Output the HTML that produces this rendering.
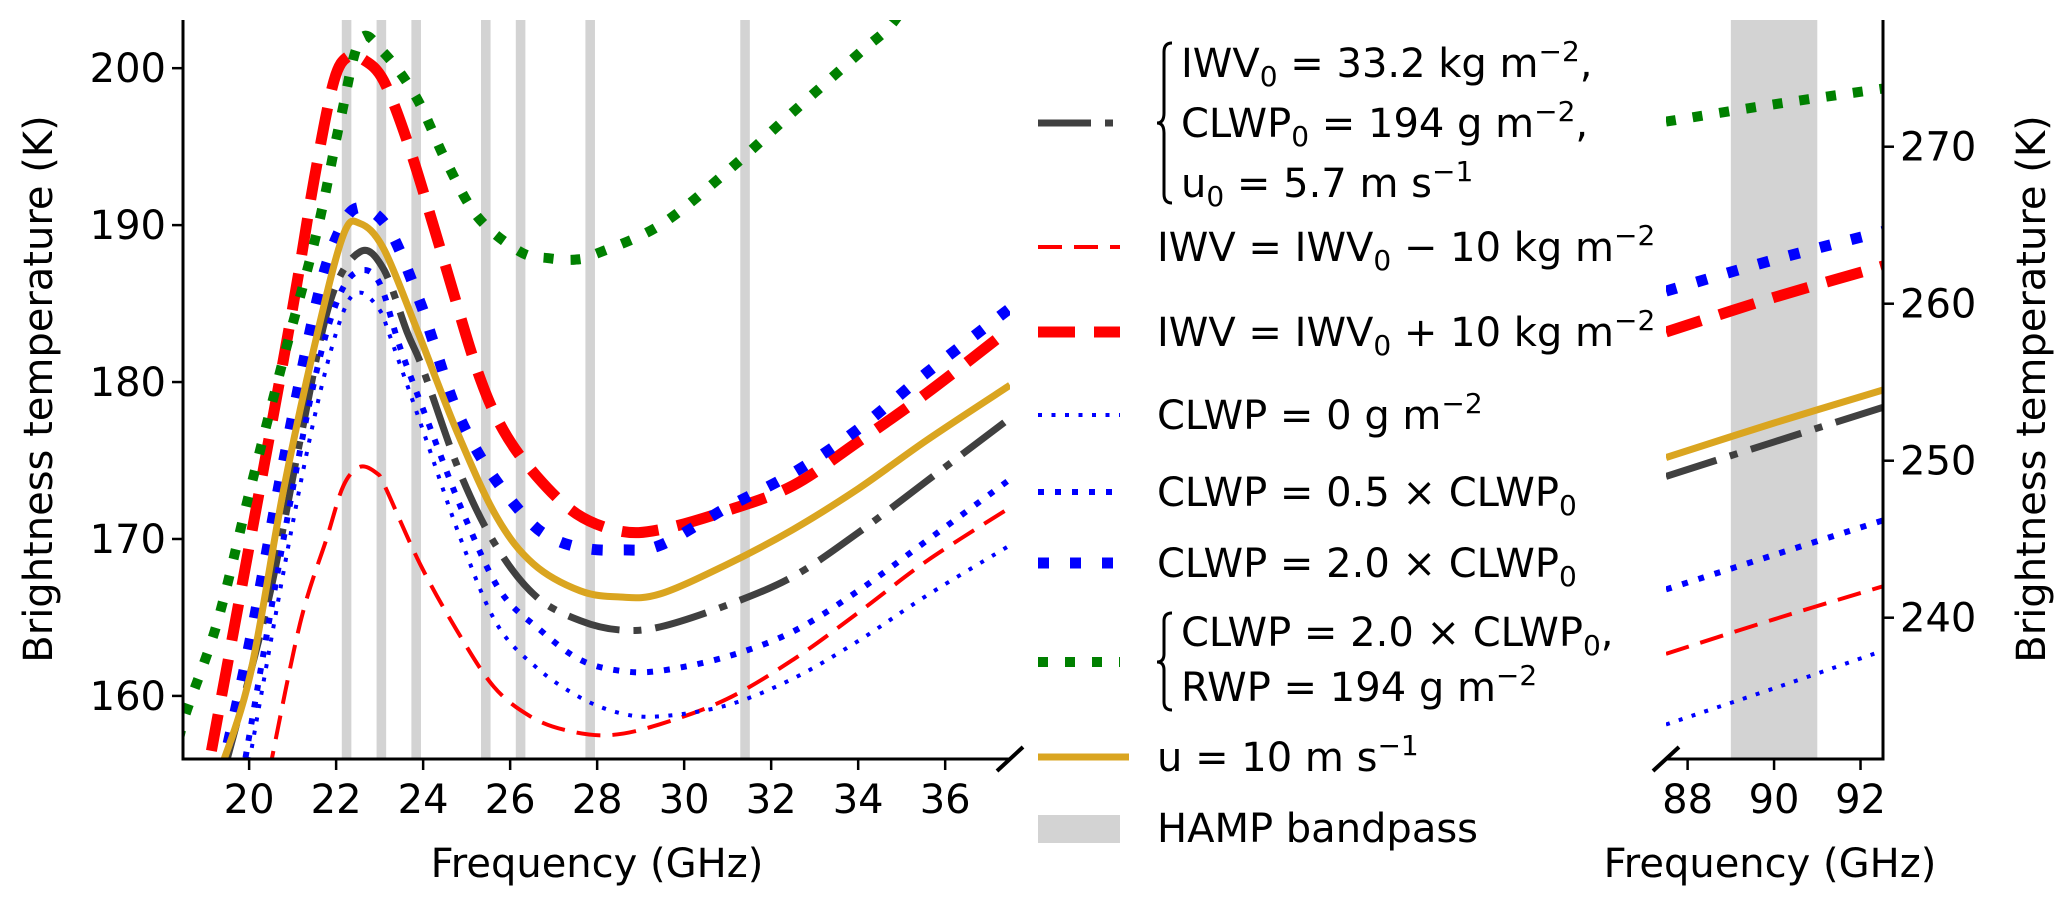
<!DOCTYPE html>
<html><head><meta charset="utf-8">
<style>
html,body{margin:0;padding:0;background:#fff;}
svg{display:block;font-family:"DejaVu Sans","Liberation Sans",sans-serif;}
text{fill:#000;}
</style></head>
<body>
<svg id="chart" xmlns="http://www.w3.org/2000/svg" width="2067" height="904" viewBox="0 0 2067 904">
<defs>
<clipPath id="clipL"><rect x="183" y="20" width="827" height="739"/></clipPath>
<clipPath id="clipR"><rect x="1666" y="20" width="217" height="739"/></clipPath>
</defs>
<g id="bandsL" clip-path="url(#clipL)"></g>
<g id="bandsR" clip-path="url(#clipR)"></g>
<g id="linesL" clip-path="url(#clipL)"></g>
<g id="linesR" clip-path="url(#clipR)"></g>
<g id="axes"></g>
<text x="0" y="0" font-size="40" text-anchor="middle" transform="translate(52,389) rotate(-90)">Brightness temperature (K)</text>
<text x="0" y="0" font-size="40" text-anchor="middle" transform="translate(2045,389) rotate(-90)">Brightness temperature (K)</text>
<text x="597" y="877" font-size="40" text-anchor="middle">Frequency (GHz)</text>
<text x="1770" y="877" font-size="40" text-anchor="middle">Frequency (GHz)</text>

<g font-size="40">
 <line x1="1038" y1="123" x2="1122" y2="123" stroke="#404040" stroke-width="7" stroke-dasharray="53 14 8 14"/>
 <path d="M1172,43 Q1164,43 1164,52 L1164,113 Q1164,123 1157,123 Q1164,123 1164,133 L1164,194 Q1164,203 1172,203" fill="none" stroke="#000" stroke-width="3"/>
 <text x="1181" y="77">IWV<tspan font-size="28" dy="9">0</tspan><tspan dy="-9"> = 33.2 kg m</tspan><tspan font-size="28" dy="-16">−2</tspan><tspan dy="16">,</tspan></text>
 <text x="1181" y="137">CLWP<tspan font-size="28" dy="9">0</tspan><tspan dy="-9"> = 194 g m</tspan><tspan font-size="28" dy="-16">−2</tspan><tspan dy="16">,</tspan></text>
 <text x="1181" y="197">u<tspan font-size="28" dy="9">0</tspan><tspan dy="-9"> = 5.7 m s</tspan><tspan font-size="28" dy="-16">−1</tspan></text>

 <line x1="1038" y1="247" x2="1120" y2="247" stroke="#ff0000" stroke-width="4" stroke-dasharray="24 12"/>
 <text x="1157" y="261">IWV = IWV<tspan font-size="28" dy="9">0</tspan><tspan dy="-9"> − 10 kg m</tspan><tspan font-size="28" dy="-16">−2</tspan></text>

 <line x1="1038" y1="332" x2="1120" y2="332" stroke="#ff0000" stroke-width="11" stroke-dasharray="37 19"/>
 <text x="1157" y="346">IWV = IWV<tspan font-size="28" dy="9">0</tspan><tspan dy="-9"> + 10 kg m</tspan><tspan font-size="28" dy="-16">−2</tspan></text>

 <line x1="1038" y1="415" x2="1120" y2="415" stroke="#0000ff" stroke-width="4" stroke-dasharray="4 9.5"/>
 <text x="1157" y="429">CLWP = 0 g m<tspan font-size="28" dy="-16">−2</tspan></text>

 <line x1="1038" y1="492" x2="1120" y2="492" stroke="#0000ff" stroke-width="6" stroke-dasharray="6 11"/>
 <text x="1157" y="506">CLWP = 0.5 × CLWP<tspan font-size="28" dy="9">0</tspan></text>

 <line x1="1038" y1="563" x2="1120" y2="563" stroke="#0000ff" stroke-width="11" stroke-dasharray="11 21"/>
 <text x="1157" y="577">CLWP = 2.0 × CLWP<tspan font-size="28" dy="9">0</tspan></text>

 <line x1="1038" y1="662" x2="1120" y2="662" stroke="#008000" stroke-width="10" stroke-dasharray="10 17"/>
 <path d="M1172,613 Q1164,613 1164,621 L1164,654 Q1164,662 1157,662 Q1164,662 1164,670 L1164,702 Q1164,710 1172,710" fill="none" stroke="#000" stroke-width="3"/>
 <text x="1181" y="646">CLWP = 2.0 × CLWP<tspan font-size="28" dy="9">0</tspan><tspan dy="-9">,</tspan></text>
 <text x="1181" y="701">RWP = 194 g m<tspan font-size="28" dy="-16">−2</tspan></text>

 <line x1="1038" y1="757" x2="1129" y2="757" stroke="#daa520" stroke-width="7"/>
 <text x="1157" y="771">u = 10 m s<tspan font-size="28" dy="-16">−1</tspan></text>

 <rect x="1038" y="815" width="82" height="28" fill="#d3d3d3"/>
 <text x="1157" y="842">HAMP bandpass</text>
</g>
</svg>
<script>
// ---- data ----
const bandsLeftCenters = [22.24, 23.04, 23.84, 25.44, 26.24, 27.84, 31.40];
const bandLeftWidth = [0.22];
const bandsRightRange = [89.0, 91.0];

const refF   = [19.4,20.41,21.18,21.87,22.55,23.09,23.63,24.0,24.85,25.69,26.61,27.61,28.53,29.45,31.0,32.5,34.0,35.58,37.49];
const refT   = [155.0,165.7,176.4,185.2,188.3,187.2,183.2,180.8,174.2,169.5,166.3,164.8,164.2,164.4,165.8,167.6,170.4,173.7,177.7];
const iwvMinusF = [20.45,21.17,21.79,22.17,22.55,22.93,23.13,23.93,24.77,25.62,26.46,27.3,28.3,29.45,30.98,32.5,34.0,35.58,37.49];
const iwvMinusT = [155.0,164.6,170.1,173.4,174.6,174.2,173.3,168.4,164.2,160.6,158.7,157.8,157.5,158.2,159.8,162.3,165.3,168.6,172.0];
const iwvPlusF = [18.9,20.0,21.0,21.5,21.95,22.3,22.6,23.09,23.7,24.47,25.25,25.85,26.61,27.53,28.53,29.45,30.98,32.5,34.0,35.58,37.49];
const iwvPlusT = [153.0,169.5,184.7,193.0,199.2,200.8,200.6,199.2,194.8,187.8,180.7,176.9,174.0,171.6,170.5,170.6,171.8,173.4,176.2,179.3,183.4];
const clwpZeroF = [19.95,20.94,21.63,22.17,22.55,23.0,23.24,24.0,24.85,25.69,26.61,27.61,28.53,29.45,30.98,32.5,34.0,35.58,37.49];
const clwpZeroT = [155.0,170.1,179.3,184.5,185.7,184.6,182.9,176.9,170.1,164.6,161.8,159.9,158.9,158.7,159.4,161.1,163.5,166.4,169.6];
const clwpHalfF = [19.85,20.87,21.56,22.09,22.55,23.0,23.47,24.16,24.93,25.77,26.69,27.61,28.53,29.45,30.98,32.5,34.0,35.58,37.49];
const clwpHalfT = [155.0,171.2,180.8,185.6,187.1,186.3,182.2,177.1,171.6,166.7,164.2,162.3,161.6,161.6,162.5,164.1,166.7,169.9,173.8];
const clwpDoubleF = [19.2,19.44,20.02,20.79,21.56,22.02,22.5,23.2,23.9,24.24,24.77,25.46,26.38,27.0,27.72,28.53,29.45,30.98,32.5,34.0,35.58,37.49];
const clwpDoubleT = [153.0,156.0,163.5,174.9,185.2,189.3,191.1,189.8,185.3,182.5,178.2,174.6,171.3,170.0,169.4,169.3,169.6,172.0,174.2,177.0,180.6,184.7];
const rwpF = [18.3,18.49,19.26,20.02,20.79,21.56,22.09,22.55,23.09,23.85,24.54,25.26,26.23,26.86,27.5,28.0,29.45,30.98,32.5,34.0,34.8,35.5];
const rwpT = [155.5,158.4,164.6,173.1,181.5,189.6,196.6,201.8,201.0,198.1,194.0,190.5,188.3,187.9,187.8,188.2,190.0,193.4,197.2,200.9,202.9,206.0];
const windF = [19.3,20.02,20.79,21.56,22.17,22.55,23.09,23.85,24.77,25.69,26.54,27.61,28.53,29.45,31.0,32.5,34.0,35.58,37.49];
const windT = [155.0,161.3,173.1,183.0,189.4,190.1,188.5,183.4,176.9,171.4,168.4,166.7,166.3,166.5,168.4,170.6,173.2,176.3,179.8];

const rightF = [87.5, 90.0, 92.52];
const rwpR = [271.6, 272.7, 273.7];
const clwpDoubleR = [260.8, 262.8, 264.6];
const iwvPlusR = [258.2, 260.4, 262.4];
const windR = [250.2, 252.4, 254.5];
const refR = [249.0, 251.2, 253.4];
const clwpHalfR = [241.8, 244.0, 246.2];
const iwvMinusR = [237.7, 239.9, 242.0];
const clwpZeroR = [233.2, 235.5, 237.9];

const xTicksLeft = [20,22,24,26,28,30,32,34,36];
const yTicksLeft = [160,170,180,190,200];
const xTicksRight = [88,90,92];
const yTicksRight = [240,250,260,270];

// ---- scales ----
const L = {x0:183, x1:1010, y0:20, y1:759, fMin:18.48, fMax:37.49, tMin:155.98, tMax:203.07};
const R = {x0:1666, x1:1883, y0:20, y1:759, fMin:87.5, fMax:92.52, tMin:231.0, tMax:278.07};
function sx(a,f){return a.x0+(f-a.fMin)/(a.fMax-a.fMin)*(a.x1-a.x0);}
function sy(a,t){return a.y1-(t-a.tMin)/(a.tMax-a.tMin)*(a.y1-a.y0);}
const NS="http://www.w3.org/2000/svg";
function mk(tag,attrs,parent){const e=document.createElementNS(NS,tag);for(const k in attrs)e.setAttribute(k,attrs[k]);parent.appendChild(e);return e;}
function smoothPath(pts){
  let d="M"+pts[0][0].toFixed(1)+","+pts[0][1].toFixed(1);
  for(let i=0;i<pts.length-1;i++){
    const p0=pts[Math.max(0,i-1)],p1=pts[i],p2=pts[i+1],p3=pts[Math.min(pts.length-1,i+2)];
    const c1x=p1[0]+(p2[0]-p0[0])/6,c1y=p1[1]+(p2[1]-p0[1])/6;
    const c2x=p2[0]-(p3[0]-p1[0])/6,c2y=p2[1]-(p3[1]-p1[1])/6;
    d+=" C"+c1x.toFixed(1)+","+c1y.toFixed(1)+" "+c2x.toFixed(1)+","+c2y.toFixed(1)+" "+p2[0].toFixed(1)+","+p2[1].toFixed(1);
  }
  return d;
}
const styles = {
  ref:{stroke:"#404040",w:7,dash:"53 14 8 14"},
  iwvMinus:{stroke:"#ff0000",w:4,dash:"24 12"},
  iwvPlus:{stroke:"#ff0000",w:11,dash:"37 19"},
  clwpZero:{stroke:"#0000ff",w:4,dash:"4 9.5"},
  clwpHalf:{stroke:"#0000ff",w:6,dash:"6 11"},
  clwpDouble:{stroke:"#0000ff",w:11,dash:"11 21"},
  rwp:{stroke:"#008000",w:10,dash:"10 17"},
  wind:{stroke:"#daa520",w:7,dash:"none"}
};

// bands
const gBL=document.getElementById('bandsL');
bandsLeftCenters.forEach(c=>{
  const x1=sx(L,c-bandLeftWidth[0]/2),x2=sx(L,c+bandLeftWidth[0]/2);
  const r=mk('rect',{x:x1,y:L.y0,width:x2-x1,height:L.y1-L.y0,fill:'#d3d3d3'},gBL);
  
  
});
const gBR=document.getElementById('bandsR');
{
  const x1=sx(R,bandsRightRange[0]),x2=sx(R,bandsRightRange[1]);
  const r=mk('rect',{x:x1,y:R.y0,width:x2-x1,height:R.y1-R.y0,fill:'#d3d3d3'},gBR);
  
  
}

// series
const gL=document.getElementById('linesL'), gR=document.getElementById('linesR');
const seriesL=[["ref",refF,refT],["iwvMinus",iwvMinusF,iwvMinusT],["iwvPlus",iwvPlusF,iwvPlusT],["clwpZero",clwpZeroF,clwpZeroT],["clwpHalf",clwpHalfF,clwpHalfT],["clwpDouble",clwpDoubleF,clwpDoubleT],["rwp",rwpF,rwpT],["wind",windF,windT]];
seriesL.forEach(([k,F,T])=>{
  const st=styles[k];
  const pts=F.map((f,i)=>[sx(L,f),sy(L,T[i])]);
  const p=mk('path',{d:smoothPath(pts),fill:'none',stroke:st.stroke,'stroke-width':st.w,'stroke-dasharray':st.dash},gL);
  
  
});
const seriesR=[["ref",refR],["iwvMinus",iwvMinusR],["iwvPlus",iwvPlusR],["clwpZero",clwpZeroR],["clwpHalf",clwpHalfR],["clwpDouble",clwpDoubleR],["rwp",rwpR],["wind",windR]];
seriesR.forEach(([k,T])=>{
  const st=styles[k];
  const pts=rightF.map((f,i)=>[sx(R,f),sy(R,T[i])]);
  const p=mk('path',{d:smoothPath(pts),fill:'none',stroke:st.stroke,'stroke-width':st.w,'stroke-dasharray':st.dash},gR);
  
  
});

// axes
const gA=document.getElementById('axes');
let e;
e=mk('line',{x1:L.x0,y1:L.y0,x2:L.x0,y2:L.y1+1.5,stroke:'#000','stroke-width':3},gA);


e=mk('line',{x1:L.x0-1.5,y1:L.y1,x2:L.x1,y2:L.y1,stroke:'#000','stroke-width':3},gA);


e=mk('line',{x1:R.x1,y1:R.y0,x2:R.x1,y2:R.y1+1.5,stroke:'#000','stroke-width':3},gA);


e=mk('line',{x1:R.x0,y1:R.y1,x2:R.x1+1.5,y2:R.y1,stroke:'#000','stroke-width':3},gA);


e=mk('line',{x1:L.x1-13,y1:L.y1+12,x2:L.x1+13,y2:L.y1-12,stroke:'#000','stroke-width':4},gA);


e=mk('line',{x1:R.x0-13,y1:R.y1+12,x2:R.x0+13,y2:R.y1-12,stroke:'#000','stroke-width':4},gA);



xTicksLeft.forEach(v=>{
  const x=sx(L,v);
  const t=mk('line',{x1:x,y1:L.y1,x2:x,y2:L.y1+11,stroke:'#000','stroke-width':2.5},gA);
  
  
  const tx=mk('text',{x:x,y:813,'font-size':40,'text-anchor':'middle'},gA);
  tx.textContent=v;
  
  
});
yTicksLeft.forEach(v=>{
  const y=sy(L,v);
  const t=mk('line',{x1:L.x0-11,y1:y,x2:L.x0,y2:y,stroke:'#000','stroke-width':2.5},gA);
  
  
  const tx=mk('text',{x:L.x0-17,y:y+14,'font-size':40,'text-anchor':'end'},gA);
  tx.textContent=v;
  
  
});
xTicksRight.forEach(v=>{
  const x=sx(R,v);
  const t=mk('line',{x1:x,y1:R.y1,x2:x,y2:R.y1+11,stroke:'#000','stroke-width':2.5},gA);
  
  
  const tx=mk('text',{x:x,y:813,'font-size':40,'text-anchor':'middle'},gA);
  tx.textContent=v;
  
  
});
yTicksRight.forEach(v=>{
  const y=sy(R,v);
  const t=mk('line',{x1:R.x1,y1:y,x2:R.x1+11,y2:y,stroke:'#000','stroke-width':2.5},gA);
  
  
  const tx=mk('text',{x:R.x1+17,y:y+14,'font-size':40,'text-anchor':'start'},gA);
  tx.textContent=v;
  
  
});
</script>
</body></html>
